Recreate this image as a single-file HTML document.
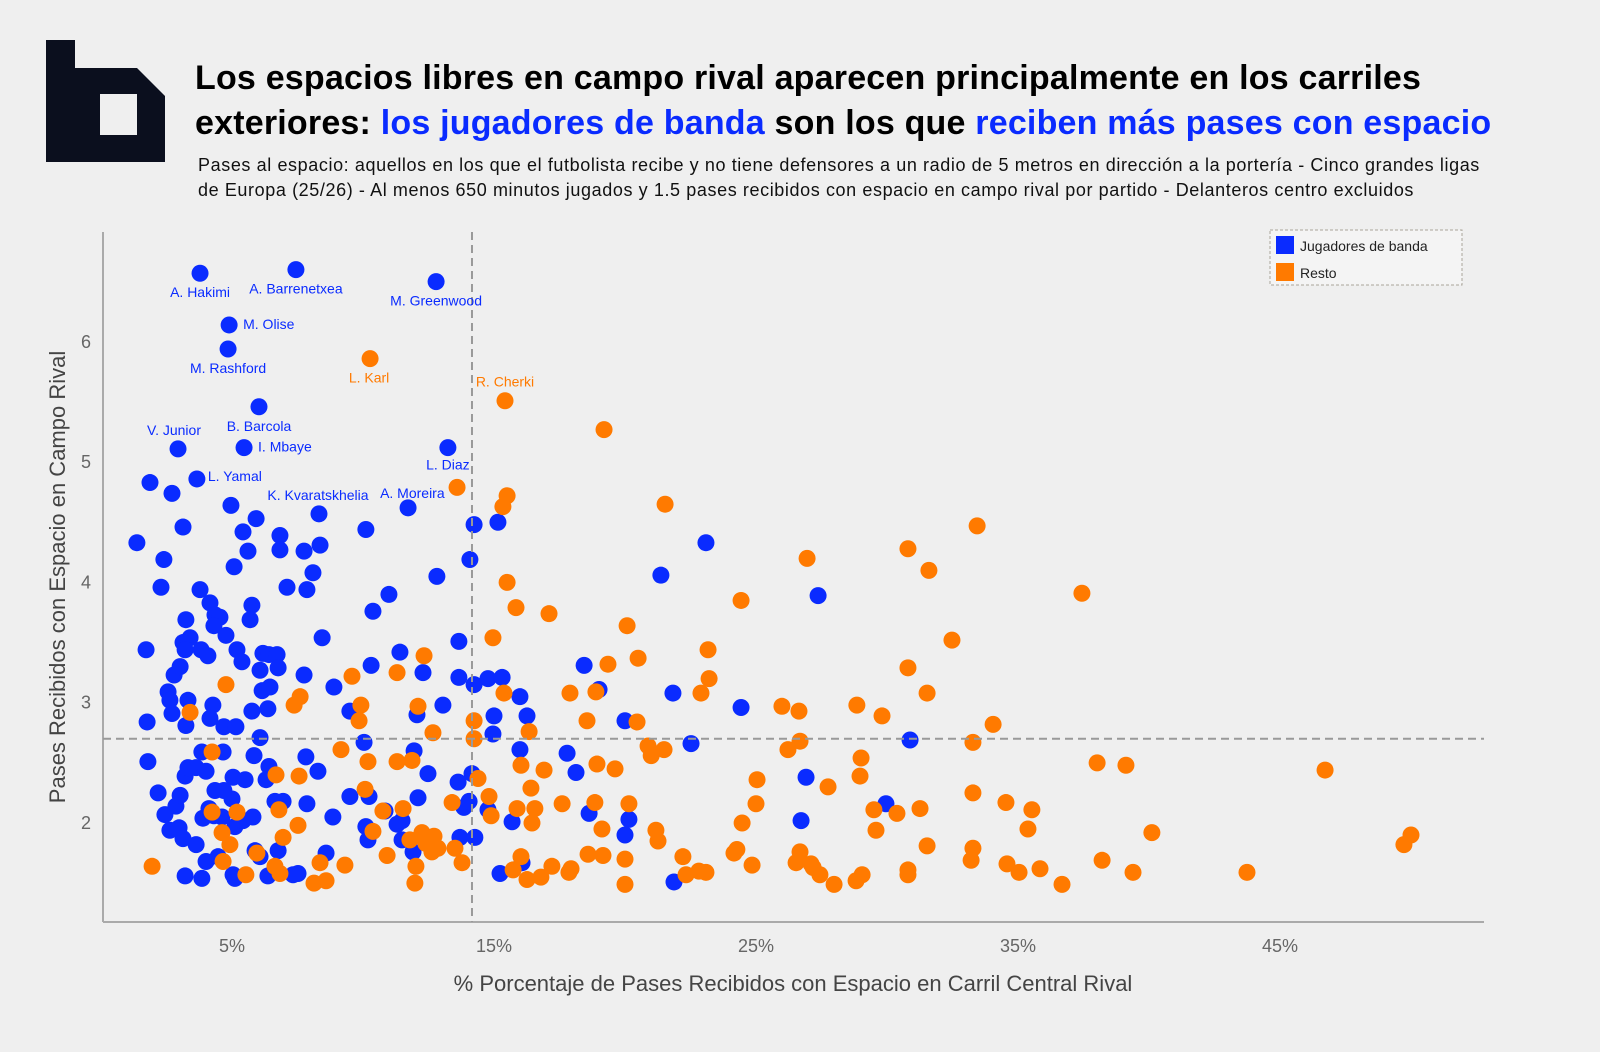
<!DOCTYPE html>
<html><head><meta charset="utf-8">
<style>
body{margin:0;width:1600px;height:1052px;background:#efefef;font-family:"Liberation Sans",sans-serif;overflow:hidden;position:relative}
.t{position:absolute;left:195px;top:56px;font-size:34px;font-weight:bold;letter-spacing:0.2px;line-height:45px;color:#000;white-space:nowrap}
.t b{color:#0a2bff}
.s{position:absolute;left:198px;top:153px;font-size:18px;letter-spacing:0.6px;line-height:25px;color:#111;width:1380px;white-space:nowrap}
</style></head><body>
<svg style="position:absolute;left:0;top:0" width="200" height="200">
<path d="M46 40 H75 V68 H137 L165 96 V162 H46 Z M100 94 V135 H137 V94 Z" fill="#0b0f1e" fill-rule="evenodd"/>
</svg>
<div class="t">Los espacios libres en campo rival aparecen principalmente en los carriles<br>exteriores: <b>los jugadores de banda</b> son los que <b>reciben más pases con espacio</b></div>
<div class="s">Pases al espacio: aquellos en los que el futbolista recibe y no tiene defensores a un radio de 5 metros en dirección a la portería - Cinco grandes ligas<br>de Europa (25/26) - Al menos 650 minutos jugados y 1.5 pases recibidos con espacio en campo rival por partido - Delanteros centro excluidos</div>
<svg id="chart" style="position:absolute;left:0;top:0" width="1600" height="1052"></svg>
<script>
const xTicks=[5,15,25,35,45];
const yTicks=[2,3,4,5,6];
const xMean=[14.16];
const yMean=[2.70];
const blueX=[3.78,7.44,12.79,4.89,4.85,6.03,2.94,5.46,13.24,3.66,8.32,11.72,1.37,1.87,2.71,3.13,2.40,2.29,4.96,5.92,5.42,5.61,5.08,6.83,6.83,7.75,8.36,8.09,7.86,7.10,3.78,3.24,3.40,3.13,3.21,1.72,4.16,4.35,4.54,4.31,4.77,5.19,5.38,5.76,5.69,6.18,6.41,6.72,6.07,6.76,3.82,4.08,2.79,3.02,2.56,2.63,3.32,2.71,3.24,1.76,4.27,4.16,4.69,5.15,6.15,6.45,5.76,6.37,7.75,8.44,8.89,9.50,1.79,2.18,2.44,2.63,2.98,2.86,3.02,3.21,3.32,3.63,3.85,4.01,4.35,4.66,4.69,5.04,5.50,5.00,4.62,5.11,5.42,5.80,4.12,4.31,3.89,3.13,3.63,4.01,3.21,3.85,5.04,5.11,4.47,5.88,6.07,6.37,6.76,7.33,7.52,6.07,5.84,6.41,6.30,6.64,6.95,7.86,7.82,8.28,8.85,8.59,10.11,10.38,10.99,10.31,11.41,10.04,9.50,10.23,10.11,10.19,10.84,11.30,11.49,11.49,11.95,12.06,12.29,12.48,12.10,11.91,12.82,13.05,13.66,13.66,14.24,14.77,15.31,13.85,14.24,15.15,14.08,15.0,14.96,14.16,14.05,14.77,15.69,13.70,14.27,15.23,15.99,16.26,15.99,16.07,18.44,19.01,17.79,18.13,18.63,20.0,20.15,20.0,21.37,21.83,22.52,23.09,24.43,26.91,26.72,27.37,21.87,30.88,29.96,13.63];
const blueY=[6.57,6.60,6.50,6.14,5.94,5.46,5.11,5.12,5.12,4.86,4.57,4.62,4.33,4.83,4.74,4.46,4.19,3.96,4.64,4.53,4.42,4.26,4.13,4.39,4.27,4.26,4.31,4.08,3.94,3.96,3.94,3.69,3.54,3.50,3.44,3.44,3.83,3.73,3.71,3.64,3.56,3.44,3.34,3.81,3.69,3.41,3.40,3.40,3.27,3.29,3.44,3.39,3.23,3.30,3.09,3.02,3.02,2.91,2.81,2.84,2.98,2.87,2.80,2.80,3.10,3.13,2.93,2.95,3.23,3.54,3.13,2.93,2.51,2.25,2.07,1.94,1.96,2.14,2.23,2.39,2.46,2.46,2.59,2.43,2.27,2.59,2.27,2.38,2.36,2.20,2.05,1.97,2.02,2.05,2.12,2.06,2.04,1.87,1.82,1.68,1.56,1.54,1.57,1.54,1.72,1.77,1.72,1.56,1.77,1.57,1.58,2.71,2.56,2.47,2.36,2.18,2.18,2.16,2.55,2.43,2.05,1.75,4.44,3.76,3.90,3.31,3.42,2.67,2.22,2.22,1.97,1.86,2.10,1.99,2.02,1.86,2.60,2.90,3.25,2.41,2.21,1.76,4.05,2.98,3.51,3.21,3.15,3.20,3.21,2.13,4.48,4.50,4.19,2.89,2.74,2.41,2.18,2.11,2.01,1.88,1.88,1.58,3.05,2.89,2.61,1.67,3.31,3.11,2.58,2.42,2.08,2.85,2.03,1.90,4.06,3.08,2.66,4.33,2.96,2.38,2.02,3.89,1.51,2.69,2.16,2.34];
const orangeX=[10.27,15.42,19.20,13.59,15.50,15.34,21.53,33.44,30.80,26.95,31.60,37.44,15.50,15.84,17.10,24.43,20.08,14.96,32.48,20.50,19.35,23.17,12.33,11.30,9.58,7.60,7.37,23.21,15.38,17.90,18.89,22.90,4.77,3.40,9.92,12.67,12.10,9.85,14.24,16.34,14.24,18.55,20.46,20.88,21.49,21.0,25.99,26.64,28.85,29.81,31.53,30.80,34.05,26.68,26.22,33.28,29.01,28.97,16.91,16.03,11.87,11.30,10.19,9.16,7.56,6.68,4.24,18.93,19.62,25.04,38.02,39.12,46.72,33.28,34.54,35.53,29.50,30.38,31.26,29.58,27.75,25.0,24.47,20.15,18.85,17.60,16.41,16.56,16.45,15.88,14.81,14.89,14.39,13.40,11.53,10.76,10.38,10.08,5.19,4.24,4.62,6.79,7.52,6.95,1.95,4.92,10.92,11.79,12.25,12.71,12.86,13.51,13.78,12.02,12.63,12.40,9.31,8.36,8.13,6.83,5.95,4.66,5.53,6.64,8.59,11.98,15.73,16.26,16.79,17.21,17.86,17.94,19.16,20.0,20.0,21.18,21.26,22.21,22.33,22.82,23.09,24.16,24.27,24.85,26.53,26.68,27.10,27.18,27.44,27.98,28.82,29.05,30.80,30.80,31.53,33.21,33.28,34.58,35.04,35.84,36.68,38.21,39.39,40.11,43.74,49.73,50.0,35.38,18.59,19.12,16.03];
const orangeY=[5.86,5.51,5.27,4.79,4.72,4.63,4.65,4.47,4.28,4.20,4.10,3.91,4.00,3.79,3.74,3.85,3.64,3.54,3.52,3.37,3.32,3.44,3.39,3.25,3.22,3.05,2.98,3.20,3.08,3.08,3.09,3.08,3.15,2.92,2.98,2.75,2.97,2.85,2.85,2.76,2.70,2.85,2.84,2.64,2.61,2.56,2.97,2.93,2.98,2.89,3.08,3.29,2.82,2.68,2.61,2.67,2.54,2.39,2.44,2.48,2.52,2.51,2.51,2.61,2.39,2.40,2.59,2.49,2.45,2.36,2.50,2.48,2.44,2.25,2.17,2.11,2.11,2.08,2.12,1.94,2.30,2.16,2.00,2.16,2.17,2.16,2.29,2.12,2.00,2.12,2.22,2.06,2.37,2.17,2.12,2.10,1.93,2.28,2.09,2.09,1.92,2.11,1.98,1.88,1.64,1.82,1.73,1.86,1.92,1.89,1.79,1.79,1.67,1.64,1.76,1.83,1.65,1.67,1.50,1.58,1.75,1.68,1.57,1.64,1.52,1.50,1.61,1.53,1.55,1.64,1.59,1.62,1.73,1.70,1.49,1.94,1.85,1.72,1.57,1.60,1.59,1.75,1.78,1.65,1.67,1.76,1.66,1.63,1.57,1.49,1.52,1.57,1.61,1.57,1.81,1.69,1.79,1.66,1.59,1.62,1.49,1.69,1.59,1.92,1.59,1.82,1.90,1.95,1.74,1.95,1.72];
const labelNames=["A. Hakimi","A. Barrenetxea","M. Greenwood","M. Olise","M. Rashford","B. Barcola","V. Junior","I. Mbaye","L. Diaz","L. Yamal","K. Kvaratskhelia","A. Moreira"];
const labelIdx=[0,1,2,3,4,5,6,7,8,9,10,11];
const labelOff=[[0,24,'middle'],[0,24,'middle'],[0,24,'middle'],[14,4,'start'],[0,24,'middle'],[0,24,'middle'],[-4,-14,'middle'],[14,4,'start'],[0,22,'middle'],[11,2,'start'],[-1,-14,'middle'],[-28,-10,'start']];
const oLabelNames=["L. Karl","R. Cherki"];
const oLabelIdx=[0,1];
const oLabelOff=[[-1,24,'middle'],[0,-14,'middle']];

const NS="http://www.w3.org/2000/svg";
const svg=document.getElementById('chart');
const X0=103,X1=1484,Y0=232,Y1=922;
function xs(p){return 232+(p-5)*26.2;}
function ys(v){return 823-(v-2)*120.3;}
function mk(t,a,parent){const e=document.createElementNS(NS,t);for(const k in a)e.setAttribute(k,a[k]);(parent||svg).appendChild(e);return e;}
let e;
e=mk('line',{x1:X0,y1:Y0,x2:X0,y2:Y1,stroke:'#aaa','stroke-width':2});


e=mk('line',{x1:X0,y1:Y1,x2:X1,y2:Y1,stroke:'#aaa','stroke-width':2});


xTicks.forEach(t=>{
  e=mk('text',{x:xs(t),y:952,'text-anchor':'middle','font-size':18,fill:'#666'});e.textContent=t+'%';
  
  
});
yTicks.forEach(t=>{
  e=mk('text',{x:91,y:ys(t)+6,'text-anchor':'end','font-size':18,fill:'#666'});e.textContent=t;
  
  
});
e=mk('text',{x:793,y:991,'text-anchor':'middle','font-size':22,fill:'#444'});e.textContent='% Porcentaje de Pases Recibidos con Espacio en Carril Central  Rival';


e=mk('text',{x:0,y:0,'text-anchor':'middle','font-size':22,fill:'#444',transform:'translate(65,577) rotate(-90)'});e.textContent='Pases Recibidos con Espacio en Campo Rival';


blueX.forEach((x,i)=>{
  e=mk('circle',{cx:xs(x),cy:ys(blueY[i]),r:8.5,fill:'#0a2bff'});
  
  
});
orangeX.forEach((x,i)=>{
  e=mk('circle',{cx:xs(x),cy:ys(orangeY[i]),r:8.5,fill:'#ff7a00'});
  
  
});
e=mk('line',{x1:xs(xMean[0]),y1:Y0,x2:xs(xMean[0]),y2:Y1,stroke:'#999','stroke-width':2,'stroke-dasharray':'8,5'});


e=mk('line',{x1:X0,y1:ys(yMean[0]),x2:X1,y2:ys(yMean[0]),stroke:'#999','stroke-width':2,'stroke-dasharray':'8,5'});


labelIdx.forEach((idx,i)=>{
  const o=labelOff[i];
  e=mk('text',{x:xs(blueX[idx])+o[0],y:ys(blueY[idx])+o[1],'text-anchor':o[2],'font-size':14,fill:'#0a2bff'});e.textContent=labelNames[i];
  
  
});
oLabelIdx.forEach((idx,i)=>{
  const o=oLabelOff[i];
  e=mk('text',{x:xs(orangeX[idx])+o[0],y:ys(orangeY[idx])+o[1],'text-anchor':o[2],'font-size':14,fill:'#ff7a00'});e.textContent=oLabelNames[i];
  
  
});
const lg=mk('g',{});


mk('rect',{x:1270,y:230,width:192,height:55,fill:'#f4f4f4',stroke:'#aaa49a','stroke-dasharray':'3,2'},lg);
e=mk('rect',{x:1276,y:236,width:18,height:18,fill:'#0a2bff'},lg);


e=mk('text',{x:1300,y:251,'font-size':14,fill:'#222'},lg);e.textContent='Jugadores de banda';


e=mk('rect',{x:1276,y:263,width:18,height:18,fill:'#ff7a00'},lg);


e=mk('text',{x:1300,y:278,'font-size':14,fill:'#222'},lg);e.textContent='Resto';


</script>
</body></html>
